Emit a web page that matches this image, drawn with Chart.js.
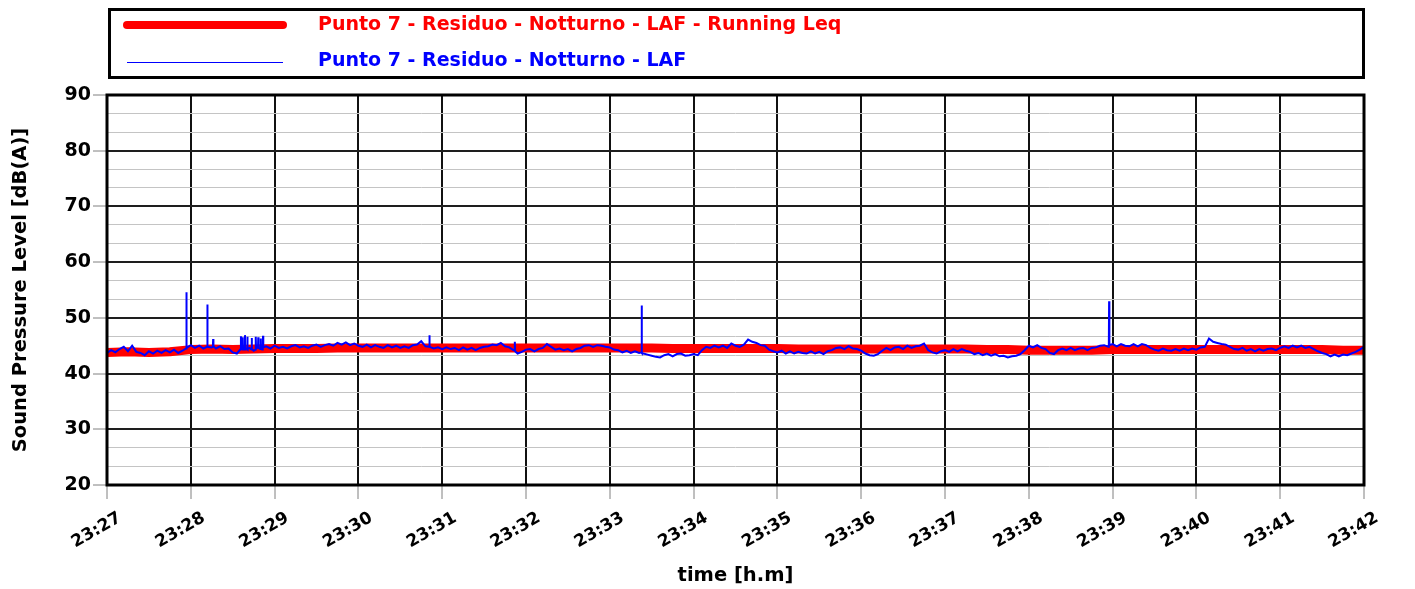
<!DOCTYPE html>
<html><head><meta charset="utf-8">
<script src="https://cdn.jsdelivr.net/npm/chart.js@4.4.1/dist/chart.umd.min.js"></script>
<style>html,body{margin:0;padding:0;background:#fff;overflow:hidden}#wrap{width:1415px;height:589px;position:relative}</style>
</head><body><div id="wrap"><canvas id="c" width="1415" height="589"></canvas></div>
<script>
// ---- data ----
const tickLabels = ['23:27','23:28','23:29','23:30','23:31','23:32','23:33','23:34','23:35','23:36','23:37','23:38','23:39','23:40','23:41','23:42'];
const tickSeconds = [0,60,120,180,240,300,360,420,480,540,600,660,720,780,840,900];
const yMajorTicks = [20,30,40,50,60,70,80,90];

const legendLabels = ['Punto 7 - Residuo - Notturno - LAF - Running Leq','Punto 7 - Residuo - Notturno - LAF'];

// LAF sampled every 3 s (t = 0 .. 900 s from 23:27:00)
const lafStep = 3;
const lafValues = [
43.7,44.2,43.8,44.4,44.8,44.0,45.0,43.9,43.7,43.3,
44.0,43.6,44.1,43.7,44.2,43.8,44.3,43.7,44.1,44.6,
45.1,44.6,45.0,44.5,44.9,44.7,44.5,44.9,44.4,44.5,
43.8,43.6,44.4,44.2,44.6,44.1,44.7,44.3,44.9,44.5,
45.0,44.6,44.8,44.5,44.9,45.1,44.7,44.9,44.6,45.0,
45.2,44.8,45.1,45.3,45.0,45.5,45.2,45.6,45.1,45.4,
45.0,44.8,45.2,44.7,45.1,44.8,44.6,45.1,44.7,45.0,
44.6,44.9,44.6,45.1,45.2,45.8,44.9,44.8,44.5,44.7,
44.4,44.7,44.4,44.6,44.2,44.7,44.3,44.6,44.2,44.6,
44.8,44.9,45.2,45.1,45.5,44.9,44.7,44.2,43.6,43.9,
44.3,44.4,44.0,44.4,44.6,45.3,44.8,44.3,44.5,44.2,
44.4,44.0,44.4,44.6,45.0,45.1,44.8,45.1,45.0,44.8,
44.7,44.3,44.2,43.8,44.1,43.7,44.0,43.7,43.6,43.4,
43.2,43.0,42.9,43.3,43.5,43.1,43.5,43.6,43.2,43.3,
43.5,43.3,44.2,44.8,44.6,45.0,44.7,45.0,44.6,45.4,
45.0,44.8,45.2,46.1,45.7,45.5,45.1,45.0,44.3,44.0,
43.8,44.1,43.6,44.0,43.6,43.9,43.7,43.6,44.0,43.6,
43.9,43.5,44.0,44.2,44.6,44.7,44.4,44.9,44.5,44.4,
44.1,43.6,43.3,43.2,43.5,44.1,44.6,44.2,44.7,44.8,
44.4,45.0,44.6,44.9,45.0,45.4,44.2,43.8,43.6,44.0,
44.2,43.9,44.4,44.0,44.4,44.1,43.9,43.5,43.7,43.3,
43.6,43.2,43.5,43.1,43.2,42.9,43.1,43.2,43.5,44.2,
45.0,44.7,45.1,44.6,44.4,43.7,43.5,44.2,44.5,44.2,
44.6,44.2,44.5,44.6,44.2,44.6,44.7,45.0,45.1,44.8,
45.3,44.9,45.3,45.0,44.9,45.3,44.9,45.3,45.1,44.6,
44.3,44.1,44.5,44.2,44.1,44.4,44.1,44.5,44.2,44.5,
44.3,44.7,44.8,46.3,45.7,45.5,45.3,45.2,44.8,44.4,
44.3,44.6,44.1,44.4,44.0,44.4,44.1,44.4,44.5,44.2,
44.6,44.9,44.6,45.0,44.7,45.0,44.6,44.8,44.4,44.0,
43.7,43.5,43.1,43.4,43.1,43.4,43.3,43.6,43.9,44.3,
44.8
];

// short events (time in s, level in dB) incl. the level just before / after
const spikeTimes = [
56.6,56.8,57.0, 71.6,71.8,72.0, 75.8,76.0,76.2,
95.7,95.9,96.1, 97.0,97.2,97.4, 98.6,98.8,99.0, 100.3,100.5,100.7,
103.4,103.6,103.8, 106.3,106.5,106.7, 108.1,108.3,108.5, 109.8,110.0,110.2,
111.5,111.7,111.9, 230.6,230.8,231.0, 291.8,292.0,292.2, 382.6,382.8,383.0,
717.3,717.5,717.7
];
const spikeValues = [
44.5,54.6,44.6, 44.8,52.4,44.8, 44.8,46.2,44.9,
44.4,46.7,44.4, 44.3,46.5,44.4, 44.3,46.9,44.4, 44.5,46.6,44.4,
44.3,46.4,44.4, 44.3,46.6,44.5, 44.5,46.5,44.6, 44.4,46.3,44.5,
44.5,46.8,44.7, 44.8,46.9,44.8, 44.3,45.7,44.0, 43.8,52.2,43.7,
45.0,53.0,45.1
];

// Running Leq every 15 s
const leqTimes = [0,15,30,45,60,75,90,105,120,135,150,165,180,195,210,225,240,255,270,285,300,315,330,345,360,375,390,405,420,435,450,465,480,495,510,525,540,555,570,585,600,615,630,645,660,675,690,705,720,735,750,765,780,795,810,825,840,855,870,885,900];
const leqValues = [43.8,43.9,43.8,43.9,44.3,44.4,44.3,44.4,44.5,44.5,44.5,44.6,44.6,44.6,44.6,44.6,44.6,44.6,44.6,44.6,44.6,44.6,44.6,44.6,44.6,44.6,44.6,44.5,44.5,44.5,44.5,44.5,44.5,44.4,44.4,44.4,44.4,44.4,44.4,44.4,44.4,44.4,44.3,44.3,44.2,44.2,44.2,44.2,44.3,44.3,44.3,44.3,44.3,44.3,44.3,44.3,44.3,44.3,44.3,44.2,44.2];

// ---- build series ----
const lafPoints = lafValues.map((v,i)=>({x:i*lafStep,y:v}))
  .concat(spikeTimes.map((t,i)=>({x:t,y:spikeValues[i]})))
  .sort((a,b)=>a.x-b.x);
const leqPoints = leqTimes.map((t,i)=>({x:t,y:leqValues[i]}));

const yTicks = [];
yMajorTicks.forEach((m,i)=>{ yTicks.push(m); if(i<yMajorTicks.length-1){ yTicks.push(m+10/3); yTicks.push(m+20/3);} });
const isMajor = v => yMajorTicks.some(m=>Math.abs(m-v)<1e-6);

const FONT = "'DejaVu Sans', sans-serif";

const framePlugin = {
  id:'frame',
  afterDatasetsDraw(chart){
    const {ctx, chartArea:a} = chart;
    ctx.save();
    ctx.strokeStyle='#000'; ctx.lineWidth=3;
    ctx.strokeRect(a.left, a.top, a.right-a.left, a.bottom-a.top);
    ctx.restore();
  }
};
const legendPlugin = {
  id:'boxLegend',
  afterDraw(chart){
    const ctx = chart.ctx;
    ctx.save();
    ctx.strokeStyle='#000'; ctx.lineWidth=3;
    ctx.strokeRect(109.5, 9.5, 1254, 68);
    const ds = chart.data.datasets;
    ctx.lineCap='round';
    ctx.strokeStyle=ds[0].borderColor; ctx.lineWidth=8;
    ctx.beginPath(); ctx.moveTo(127,25); ctx.lineTo(283,25); ctx.stroke();
    ctx.lineCap='butt';
    ctx.strokeStyle=ds[1].borderColor; ctx.lineWidth=1;
    ctx.beginPath(); ctx.moveTo(127,62.5); ctx.lineTo(283,62.5); ctx.stroke();
    ctx.font = "bold 19px " + FONT;
    ctx.textBaseline='middle'; ctx.textAlign='left';
    ctx.fillStyle=ds[0].borderColor; ctx.fillText(ds[0].label, 318, 25);
    ctx.fillStyle=ds[1].borderColor; ctx.fillText(ds[1].label, 318, 61);
    ctx.restore();
  }
};

new Chart(document.getElementById('c'), {
  type:'line',
  data:{ datasets:[
    { label:legendLabels[0], data:leqPoints, borderColor:'#ff0000', backgroundColor:'#ff0000', borderWidth:9, pointRadius:0, tension:0, order:1, borderJoinStyle:'round' },
    { label:legendLabels[1], data:lafPoints, borderColor:'#0000ff', backgroundColor:'#0000ff', borderWidth:2, pointRadius:0, tension:0, order:0 }
  ]},
  options:{
    responsive:false, animation:false, devicePixelRatio:1,
    layout:{ padding:{ top:95, right:51, bottom:0, left:0 } },
    plugins:{ legend:{display:false}, tooltip:{enabled:false}, title:{display:false} },
    scales:{
      x:{
        type:'linear', min:0, max:900,
        afterBuildTicks: s => { s.ticks = tickSeconds.map(v=>({value:v})); },
        afterFit: s => { s.height = 104; },
        ticks:{ autoSkip:false, maxRotation:30, minRotation:30, color:'#000', padding:9, labelOffset:13,
          font:{ family:FONT, size:17, weight:'bold' },
          callback: v => { const i = tickSeconds.indexOf(v); return i>=0 ? tickLabels[i] : ''; } },
        grid:{ color:'#111', lineWidth:2, tickLength:14, tickColor:'#808080', tickWidth:1 },
        border:{ display:false },
        title:{ display:true, text:'time [h.m]', color:'#000', font:{ family:FONT, size:19.5, weight:'bold' }, padding:{top:1,bottom:1} }
      },
      y:{
        min:20, max:90,
        afterBuildTicks: s => { s.ticks = yTicks.map(v=>({value:v})); },
        afterFit: s => { s.width = 107; },
        ticks:{ autoSkip:false, color:'#000', padding:2, font:{ family:FONT, size:19, weight:'bold' },
          callback: v => isMajor(v) ? String(Math.round(v)) : '' },
        grid:{ color: c => isMajor(c.tick.value) ? '#1e1e1e' : '#c4c4c4',
               lineWidth: c => isMajor(c.tick.value) ? 2 : 1,
               tickLength:14, tickWidth:1,
               tickColor: c => isMajor(c.tick.value) ? '#808080' : 'rgba(0,0,0,0)' },
        border:{ display:false },
        title:{ display:true, text:'Sound Pressure Level [dB(A)]', color:'#000', font:{ family:FONT, size:19.5, weight:'bold' }, padding:{top:9,bottom:0} }
      }
    }
  },
  plugins:[framePlugin, legendPlugin]
});
</script></body></html>
